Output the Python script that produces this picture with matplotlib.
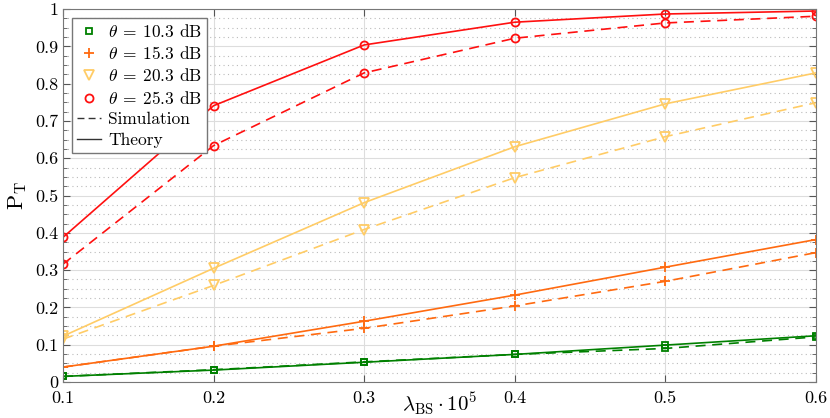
import numpy as np
import matplotlib
matplotlib.use('Agg')
import matplotlib.pyplot as plt
from matplotlib.lines import Line2D
from matplotlib.ticker import MultipleLocator

plt.rcParams['font.family'] = 'serif'
plt.rcParams['font.serif'] = ['cmr10']
plt.rcParams['mathtext.fontset'] = 'cm'
plt.rcParams['axes.formatter.use_mathtext'] = True

# data
lam = [0.1, 0.2, 0.3, 0.4, 0.5, 0.6]
thetas = ['10.3', '15.3', '20.3', '25.3']

theory_103 = [0.015, 0.032, 0.053, 0.074, 0.099, 0.124]
sim_103 = [0.015, 0.033, 0.054, 0.074, 0.090, 0.121]
theory_153 = [0.040, 0.096, 0.163, 0.233, 0.308, 0.382]
sim_153 = [0.040, 0.096, 0.144, 0.204, 0.270, 0.347]
theory_203 = [0.123, 0.305, 0.481, 0.631, 0.746, 0.829]
sim_203 = [0.115, 0.259, 0.409, 0.548, 0.658, 0.749]
theory_253 = [0.388, 0.741, 0.904, 0.965, 0.987, 0.995]
sim_253 = [0.316, 0.634, 0.829, 0.922, 0.963, 0.981]

theory = [theory_103, theory_153, theory_203, theory_253]
sim = [sim_103, sim_153, sim_203, sim_253]
colors = ['#008000', '#ff6a10', '#ffcc66', '#ff1010']
markers = ['s', '+', 'v', 'o']
msizes = [4.5, 7.5, 6.5, 5.8]

fig = plt.figure(figsize=(8.3, 4.18), dpi=100)
ax = fig.add_axes([0.0759, 0.0861, 0.907, 0.892])

for th, sm, c, m, ms in zip(theory, sim, colors, markers, msizes):
    ax.plot(lam, th, '-', color=c, marker=m, mfc='none', ms=ms, mew=1.3, lw=1.2)
    ax.plot(lam, sm, '--', color=c, marker=m, mfc='none', ms=ms, mew=1.3, lw=1.2,
            dashes=(6, 4))

ax.set_xlim(0.1, 0.6)
ax.set_ylim(0, 1)
ax.set_xticks(lam)
ax.set_xticklabels(['0.1', '0.2', '0.3', '0.4', '0.5', '0.6'])
ax.set_yticks(np.arange(0, 1.01, 0.1))
ax.set_yticklabels(['0'] + ['%.1f' % v for v in np.arange(0.1, 0.95, 0.1)] + ['1'])
ax.yaxis.set_minor_locator(MultipleLocator(0.025))

ax.grid(True, which='major', color='#dddddd', lw=0.8)
ax.grid(True, which='minor', axis='y', color='#bbbbbb', lw=0.8, ls=(0, (1, 3)))
ax.set_axisbelow(True)

ax.tick_params(which='both', direction='in', top=True, right=True,
               labelsize=13, color='#555555')
ax.tick_params(axis='x', pad=6)
ax.tick_params(which='major', length=5)
ax.tick_params(which='minor', length=3)
for s in ax.spines.values():
    s.set_color('#777777')

ax.set_ylabel(r'$\mathrm{P}_\mathrm{T}$', fontsize=16, labelpad=4)
ax.set_xlabel(r'$\lambda_{\mathrm{BS}}\cdot 10^5$', fontsize=15, labelpad=-11)

handles = []
for t, c, m, ms in zip(thetas, colors, markers, msizes):
    handles.append(Line2D([], [], ls='none', marker=m, color=c, mfc='none',
                          ms=ms, mew=1.3,
                          label=r'$\theta\:=\:%s$ dB' % t))
handles.append(Line2D([], [], ls='--', color='#333333', lw=1, dashes=(5, 3),
                      label='Simulation'))
handles.append(Line2D([], [], ls='-', color='#333333', lw=1, label='Theory'))
leg = ax.legend(handles=handles, loc='upper left', fontsize=12.5,
                fancybox=False, framealpha=1, edgecolor='#777777',
                handlelength=1.4, borderaxespad=0.5, labelspacing=0.3,
                handletextpad=0.4, borderpad=0.3)
leg.get_frame().set_linewidth(1)

fig.savefig('out.png', dpi=100)
